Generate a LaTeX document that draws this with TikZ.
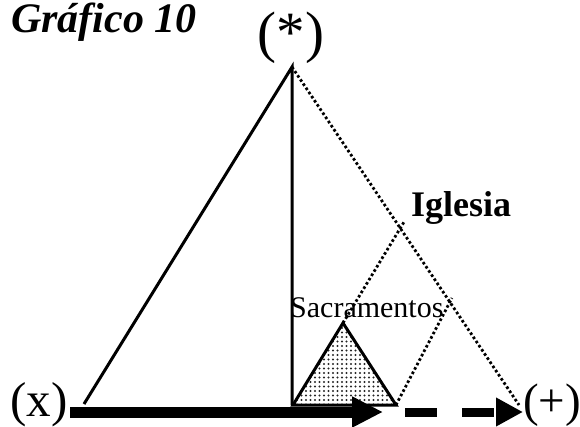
\documentclass[tikz,border=0pt]{standalone}
\usepackage{fontspec}
\setmainfont{Liberation Serif}
\usetikzlibrary{arrows.meta,patterns.meta}
\begin{document}
\begin{tikzpicture}[x=1pt,y=-1pt,
  solidline/.style={line width=3pt, line join=miter},
  dotline/.style={line width=2.8pt, dash pattern=on 2.6pt off 2.4pt},
  lbl/.style={inner sep=0pt, anchor=base west},
  bigarrow/.style={line width=11pt, -{Triangle[length=31pt,width=29pt]}},
  dasharrow/.style={line width=9pt, dash pattern=on 32pt off 25pt, -{Triangle[length=27pt,width=27pt]}},
  sacfill/.style={pattern={Dots[distance=4.5pt,radius=1.1pt]}, pattern color=black!85}]
\useasboundingbox (0,0) rectangle (580,427);
% points
\coordinate (A) at (292,67);
\coordinate (L) at (84,404);
\coordinate (V) at (292,405);
\coordinate (R) at (519,405);
\coordinate (S1) at (293,405);
\coordinate (S2) at (343,323);
\coordinate (S3) at (396,405);
\coordinate (I1) at (404,222);
\coordinate (I2) at (452,298);
\coordinate (a1) at (70,412);
\coordinate (a2) at (383,412);
\coordinate (d1) at (405,412);
\coordinate (d2) at (523,412);
% texts
\node[lbl] (title) at (11,33) {\fontsize{42}{42}\selectfont\bfseries\itshape Gráfico 10};
\node[inner sep=0pt, anchor=base] (star) at (291,52) {\fontsize{57}{57}\selectfont (*)};
\node[lbl] (x) at (10,416) {\fontsize{49}{49}\selectfont (x)};
\node[lbl] (plus) at (523,416) {\fontsize{47}{47}\selectfont (+)};
\node[lbl] (igl) at (411,217) {\fontsize{36}{36}\selectfont\bfseries Iglesia};
\node[lbl] (sac) at (290,317) {\fontsize{30}{30}\selectfont Sacramentos};
% small triangle
\filldraw[solidline, sacfill] (S1) -- (S2) -- (S3) -- cycle;
% big lines
\draw[solidline] (L) -- (A) -- (V);
\draw[dotline] (A) -- (R);
\draw[dotline] (S2) -- (I1);
\draw[dotline] (S3) -- (I2);
% arrows
\draw[bigarrow] (a1) -- (a2);
\draw[dasharrow] (d1) -- (d2);
\end{tikzpicture}
\end{document}
